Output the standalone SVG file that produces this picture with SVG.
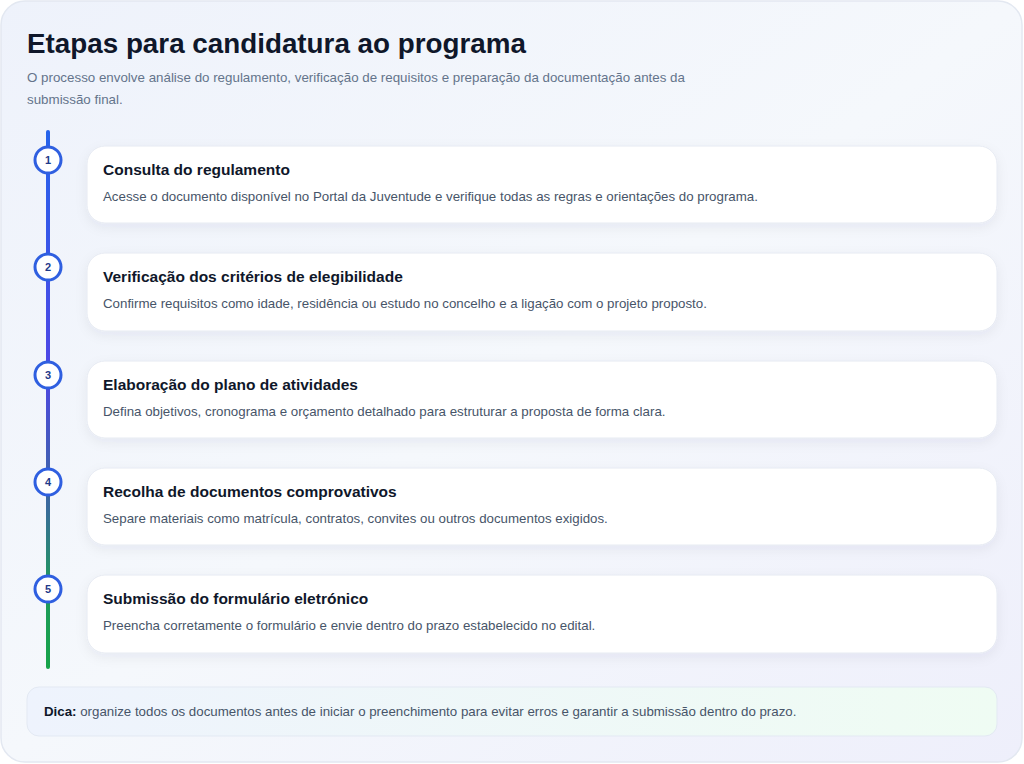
<svg xmlns="http://www.w3.org/2000/svg" width="1024" height="764" viewBox="0 0 1024 764">
  <defs>
    <linearGradient id="bg" x1="0" y1="0" x2="1" y2="1">
      <stop offset="0" stop-color="#eef2fb"/>
      <stop offset="0.5" stop-color="#f5f8fc"/>
      <stop offset="1" stop-color="#eeeffb"/>
    </linearGradient>
    <linearGradient id="line" x1="0" y1="132" x2="0" y2="667" gradientUnits="userSpaceOnUse">
      <stop offset="0" stop-color="#2563eb"/>
      <stop offset="0.45" stop-color="#4f46e5"/>
      <stop offset="0.7" stop-color="#3a6a9c"/>
      <stop offset="0.85" stop-color="#1f9a5c"/>
      <stop offset="1" stop-color="#16a34a"/>
    </linearGradient>
    <linearGradient id="tip" x1="0" y1="0" x2="1" y2="0">
      <stop offset="0" stop-color="#eef3fd"/>
      <stop offset="1" stop-color="#effcf3"/>
    </linearGradient>
    <filter id="sh" x="-5%" y="-30%" width="110%" height="160%">
      <feDropShadow dx="0" dy="4" stdDeviation="6" flood-color="#1e293b" flood-opacity="0.06"/>
    </filter>
    <style>
      .card{fill:#ffffff;stroke:#e6eaf2;stroke-width:1;filter:url(#sh)}
      .dot{fill:#ffffff;stroke:#2f5fe0;stroke-width:3}
      .num{font-family:"Liberation Sans",Arial,sans-serif;font-size:11px;font-weight:bold;fill:#1e3a8a;text-anchor:middle}
      .ttl{font-family:"Liberation Sans",Arial,sans-serif;font-size:15.5px;font-weight:bold;fill:#0f172a}
      .dsc{font-family:"Liberation Sans",Arial,sans-serif;font-size:13.3px;fill:#475569}
      .sub{font-family:"Liberation Sans",Arial,sans-serif;font-size:13.35px;fill:#64748b}
    </style>
  </defs>
  <rect x="0" y="0" width="1024" height="764" fill="#ffffff"/>
  <rect x="1" y="1" width="1021" height="761" rx="24" fill="url(#bg)" stroke="#e3e8f1" stroke-width="1.5"/>
  <text x="27" y="53" font-family="Liberation Sans, Arial, sans-serif" font-size="27.8" font-weight="bold" fill="#0f172a">Etapas para candidatura ao programa</text>
  <text class="sub" x="27" y="82">O processo envolve análise do regulamento, verificação de requisitos e preparação da documentação antes da</text>
  <text class="sub" x="27" y="104">submissão final.</text>

  <g id="connectors">
    <line x1="48" y1="132" x2="48" y2="667" stroke="url(#line)" stroke-width="4" stroke-linecap="round"/>
  </g>

  <g id="step1">
    <rect class="card" x="87" y="146" width="910" height="77" rx="18"/>
    <circle class="dot" cx="48" cy="160" r="13"/>
    <text class="num" x="48" y="164">1</text>
    <text class="ttl" x="103" y="175">Consulta do regulamento</text>
    <text class="dsc" x="103" y="201">Acesse o documento disponível no Portal da Juventude e verifique todas as regras e orientações do programa.</text>
  </g>
  <g id="step2">
    <rect class="card" x="87" y="253" width="910" height="78" rx="18"/>
    <circle class="dot" cx="48" cy="267" r="13"/>
    <text class="num" x="48" y="271">2</text>
    <text class="ttl" x="103" y="282">Verificação dos critérios de elegibilidade</text>
    <text class="dsc" x="103" y="308">Confirme requisitos como idade, residência ou estudo no concelho e a ligação com o projeto proposto.</text>
  </g>
  <g id="step3">
    <rect class="card" x="87" y="361" width="910" height="77" rx="18"/>
    <circle class="dot" cx="48" cy="375" r="13"/>
    <text class="num" x="48" y="379">3</text>
    <text class="ttl" x="103" y="390">Elaboração do plano de atividades</text>
    <text class="dsc" x="103" y="416">Defina objetivos, cronograma e orçamento detalhado para estruturar a proposta de forma clara.</text>
  </g>
  <g id="step4">
    <rect class="card" x="87" y="468" width="910" height="77" rx="18"/>
    <circle class="dot" cx="48" cy="482" r="13"/>
    <text class="num" x="48" y="486">4</text>
    <text class="ttl" x="103" y="497">Recolha de documentos comprovativos</text>
    <text class="dsc" x="103" y="523">Separe materiais como matrícula, contratos, convites ou outros documentos exigidos.</text>
  </g>
  <g id="step5">
    <rect class="card" x="87" y="575" width="910" height="78" rx="18"/>
    <circle class="dot" cx="48" cy="589" r="13"/>
    <text class="num" x="48" y="593">5</text>
    <text class="ttl" x="103" y="604">Submissão do formulário eletrónico</text>
    <text class="dsc" x="103" y="630">Preencha corretamente o formulário e envie dentro do prazo estabelecido no edital.</text>
  </g>

  <g id="tip-box">
    <rect x="27" y="687" width="970" height="49" rx="12" fill="url(#tip)" stroke="#e3e9f3" stroke-width="1"/>
    <text class="dsc" x="44" y="716" fill="#334155"><tspan font-weight="bold" fill="#0f172a">Dica:</tspan> organize todos os documentos antes de iniciar o preenchimento para evitar erros e garantir a submissão dentro do prazo.</text>
  </g>
</svg>
